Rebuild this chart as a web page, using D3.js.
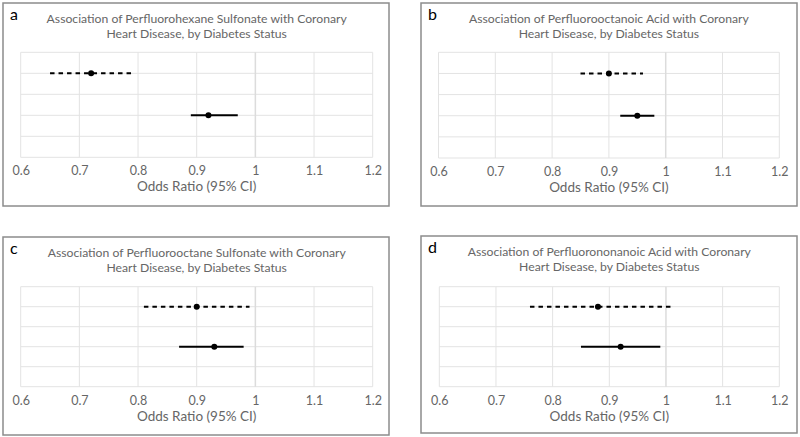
<!DOCTYPE html>
<html><head><meta charset="utf-8">
<script src="https://cdn.jsdelivr.net/npm/d3@7"></script>
<style>html,body{margin:0;padding:0;background:#fff;} svg{display:block;}</style>
</head><body>
<svg id="chart" width="800" height="437"></svg>
<script>
const panelLetters = ["a", "b", "c", "d"];
const titleLine1 = [
  "Association of Perfluorohexane Sulfonate with Coronary",
  "Association of Perfluorooctanoic Acid with Coronary",
  "Association of Perfluorooctane Sulfonate with Coronary",
  "Association of Perfluorononanoic Acid with Coronary"
];
const titleLine2 = "Heart Disease, by Diabetes Status";
const xTicks = [0.6, 0.7, 0.8, 0.9, 1.0, 1.1, 1.2];
const xLabels = ["0.6", "0.7", "0.8", "0.9", "1", "1.1", "1.2"];
const axisTitle = "Odds Ratio (95% CI)";
// dashed series (upper row)
const dashedOR = [0.72, 0.90, 0.90, 0.88];
const dashedLo = [0.65, 0.85, 0.81, 0.76];
const dashedHi = [0.79, 0.96, 0.99, 1.01];
// solid series (lower row)
const solidOR = [0.92, 0.95, 0.93, 0.92];
const solidLo = [0.89, 0.92, 0.87, 0.85];
const solidHi = [0.97, 0.98, 0.98, 0.99];
const rowDashed = 4, rowSolid = 2;
const yRows = [0, 1, 2, 3, 4, 5];

const layout = [
  {box: [3, 3, 389, 206], plot: [20.7, 52.3, 372.7, 157.3]},
  {box: [421, 3, 797, 206], plot: [438.5, 52.3, 779.3, 158]},
  {box: [3, 237, 389, 435], plot: [20.7, 286.7, 372.7, 386.7]},
  {box: [421, 236, 797, 433], plot: [439.3, 286.7, 779.3, 386.7]}
];

const svg = d3.select("#chart");
const FONT = "Lato, 'Open Sans', sans-serif";

panelLetters.forEach((letter, i) => {
  const L = layout[i];
  const g = svg.append("g");
  g.append("rect").attr("x", L.box[0]).attr("y", L.box[1])
    .attr("width", L.box[2] - L.box[0]).attr("height", L.box[3] - L.box[1])
    .attr("fill", "#fff").attr("stroke", "#8c8c8c").attr("stroke-width", 1.5);

  const x = d3.scaleLinear().domain([0.6, 1.2]).range([L.plot[0], L.plot[2]]);
  const y = d3.scaleLinear().domain([0, 5]).range([L.plot[3], L.plot[1]]);

  // horizontal gridlines
  g.append("g").selectAll("line").data(yRows).join("line")
    .attr("x1", L.plot[0]).attr("x2", L.plot[2])
    .attr("y1", d => y(d)).attr("y2", d => y(d))
    .attr("stroke", "#e3e3e3").attr("stroke-width", 1);
  // vertical gridlines
  g.append("g").selectAll("line").data(xTicks).join("line")
    .attr("x1", d => x(d)).attr("x2", d => x(d))
    .attr("y1", L.plot[1]).attr("y2", L.plot[3])
    .attr("stroke", d => d === 1.0 ? "#dcdcdc" : "#e3e3e3")
    .attr("stroke-width", d => d === 1.0 ? 1.5 : 1);

  // tick labels via axis
  const axis = d3.axisBottom(x).tickValues(xTicks).tickSize(0)
    .tickFormat((d, k) => xLabels[k]);
  const ag = g.append("g").attr("transform", `translate(0,${L.plot[3] + 6})`).call(axis);
  ag.select(".domain").remove();
  ag.selectAll("text").attr("fill", "#666").style("font-family", FONT).style("font-size", "12.5px");

  // axis title
  g.append("text").attr("x", (L.plot[0] + L.plot[2]) / 2).attr("y", L.plot[3] + 34)
    .attr("text-anchor", "middle").attr("fill", "#666")
    .style("font-family", FONT).style("font-size", "13.5px").text(axisTitle);

  // title
  const cx = (L.plot[0] + L.plot[2]) / 2;
  g.append("text").attr("x", cx).attr("y", L.box[1] + 19.5)
    .attr("text-anchor", "middle").attr("fill", "#666")
    .style("font-family", FONT).style("font-size", "12.2px").text(titleLine1[i]);
  g.append("text").attr("x", cx).attr("y", L.box[1] + 34.5)
    .attr("text-anchor", "middle").attr("fill", "#666")
    .style("font-family", FONT).style("font-size", "12.2px").text(titleLine2);

  // panel letter
  g.append("text").attr("x", L.box[0] + 7).attr("y", L.box[1] + 17)
    .attr("fill", "#000").style("font-family", FONT).style("font-size", "16px").text(letter);

  // dashed CI
  g.append("line").attr("x1", x(dashedLo[i])).attr("x2", x(dashedHi[i]))
    .attr("y1", y(rowDashed)).attr("y2", y(rowDashed))
    .attr("stroke", "#000").attr("stroke-width", 2).attr("stroke-dasharray", "4.5,4");
  g.append("circle").attr("cx", x(dashedOR[i])).attr("cy", y(rowDashed)).attr("r", 3).attr("fill", "#000");
  // solid CI
  g.append("line").attr("x1", x(solidLo[i])).attr("x2", x(solidHi[i]))
    .attr("y1", y(rowSolid)).attr("y2", y(rowSolid))
    .attr("stroke", "#000").attr("stroke-width", 2);
  g.append("circle").attr("cx", x(solidOR[i])).attr("cy", y(rowSolid)).attr("r", 3).attr("fill", "#000");
});
</script>
</body></html>
